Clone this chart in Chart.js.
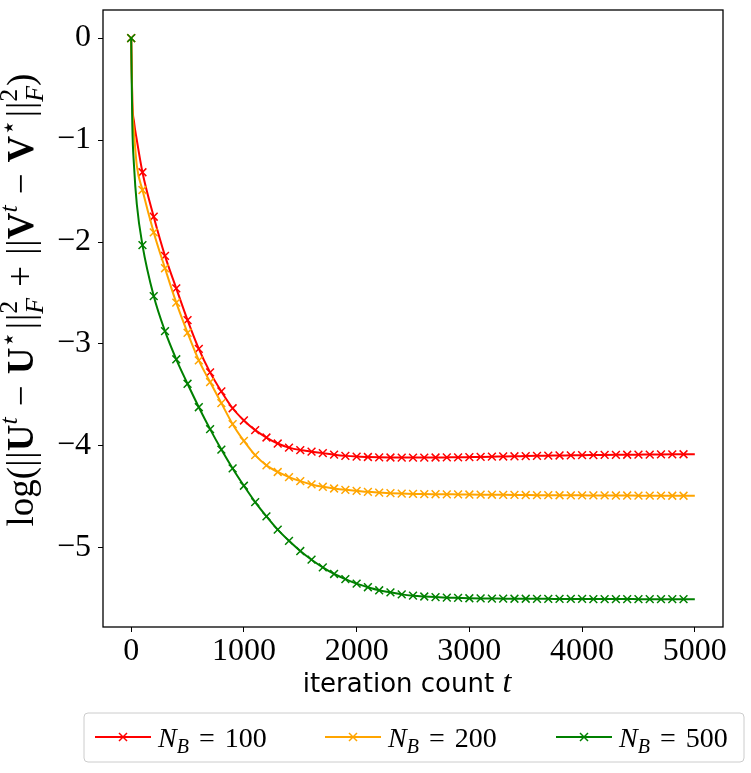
<!DOCTYPE html>
<html>
<head>
<meta charset="utf-8">
<script src="https://cdn.jsdelivr.net/npm/chart.js@4.4.1/dist/chart.umd.min.js"></script>
<style>
  html, body { margin: 0; padding: 0; background: #fff; }
  #wrap { width: 751px; height: 773px; position: relative; }
</style>
</head>
<body>
<div id="wrap"><canvas id="c"></canvas></div>
<script>
// iteration count t (line points; markers drawn every 100)
const tValues = [0, 10, 25, 50,
  100, 200, 300, 400, 500, 600, 700, 800, 900, 1000,
  1100, 1200, 1300, 1400, 1500, 1600, 1700, 1800, 1900, 2000,
  2100, 2200, 2300, 2400, 2500, 2600, 2700, 2800, 2900, 3000,
  3100, 3200, 3300, 3400, 3500, 3600, 3700, 3800, 3900, 4000,
  4100, 4200, 4300, 4400, 4500, 4600, 4700, 4800, 4900, 5000];

const seriesNB100 = [0, -0.62, -0.82, -1.00,
  -1.316, -1.752, -2.136, -2.454, -2.766, -3.048, -3.278, -3.465, -3.630, -3.750,
  -3.845, -3.917, -3.976, -4.016, -4.040, -4.056, -4.070, -4.085, -4.097, -4.104,
  -4.108, -4.111, -4.113, -4.114, -4.114, -4.114, -4.113, -4.112, -4.111, -4.109,
  -4.107, -4.105, -4.103, -4.101, -4.099, -4.097, -4.095, -4.093, -4.092, -4.090,
  -4.089, -4.088, -4.087, -4.086, -4.085, -4.084, -4.083, -4.082, -4.081, -4.080];

const seriesNB200 = [0, -0.65, -0.92, -1.25,
  -1.490, -1.906, -2.257, -2.595, -2.890, -3.160, -3.373, -3.580, -3.786, -3.950,
  -4.090, -4.190, -4.255, -4.305, -4.345, -4.377, -4.400, -4.417, -4.430, -4.440,
  -4.450, -4.457, -4.463, -4.467, -4.470, -4.472, -4.473, -4.474, -4.475, -4.476,
  -4.477, -4.478, -4.479, -4.480, -4.481, -4.482, -4.482, -4.483, -4.484, -4.484,
  -4.485, -4.485, -4.486, -4.486, -4.487, -4.487, -4.487, -4.488, -4.488, -4.488];

const seriesNB500 = [0, -0.85, -1.25, -1.63,
  -2.030, -2.530, -2.874, -3.150, -3.390, -3.620, -3.835, -4.035, -4.220, -4.390,
  -4.550, -4.690, -4.820, -4.930, -5.030, -5.115, -5.190, -5.255, -5.305, -5.350,
  -5.385, -5.415, -5.435, -5.455, -5.468, -5.476, -5.482, -5.487, -5.490, -5.493,
  -5.495, -5.496, -5.497, -5.498, -5.498, -5.499, -5.499, -5.500, -5.500, -5.500,
  -5.501, -5.501, -5.501, -5.501, -5.502, -5.502, -5.502, -5.502, -5.502, -5.502];

const seriesLabels = ['100', '200', '500'];
const seriesColors = ['#ff0000', '#ffa500', '#008000'];
const xTicks = [0, 1000, 2000, 3000, 4000, 5000];
const yTicks = [0, -1, -2, -3, -4, -5];

const SERIF = '"Liberation Serif", "DejaVu Serif", serif';
const SERIF_FB = '"Liberation Serif", "DejaVu Serif", "DejaVu Sans", serif';

function markerRadius(ctx) {
  const t = tValues[ctx.dataIndex];
  return (t % 100 === 0 && t < 5000) ? 5.5 : 0;
}

function makeDataset(values, idx) {
  return {
    label: 'N_B = ' + seriesLabels[idx],
    data: tValues.map((t, i) => ({ x: t, y: values[i] })),
    borderColor: seriesColors[idx],
    backgroundColor: seriesColors[idx],
    borderWidth: 2,
    pointStyle: 'crossRot',
    pointRadius: markerRadius,
    pointHoverRadius: markerRadius,
    pointBorderWidth: 1.5,
    pointBorderColor: seriesColors[idx],
    cubicInterpolationMode: 'monotone',
    fill: false,
    order: 2 - idx
  };
}

// rich text helpers
function segWidth(ctx, s) {
  if (s.gap !== undefined) return s.gap;
  if (s.sup !== undefined) {
    ctx.font = s.supFont; const w1 = ctx.measureText(s.sup).width;
    ctx.font = s.subFont; const w2 = ctx.measureText(s.sub).width;
    return Math.max(w1, w2);
  }
  ctx.font = s.font; return ctx.measureText(s.t).width;
}
function drawSegs(ctx, segs, x0, y0) {
  let x = x0;
  ctx.textBaseline = 'alphabetic';
  ctx.textAlign = 'left';
  for (const s of segs) {
    const w = segWidth(ctx, s);
    if (s.gap === undefined) {
      if (s.sup !== undefined) {
        ctx.font = s.supFont; ctx.fillText(s.sup, x, y0 + s.supDy);
        ctx.font = s.subFont; ctx.fillText(s.sub, x, y0 + s.subDy);
      } else {
        ctx.font = s.font; ctx.fillText(s.t, x, y0 + (s.dy || 0));
      }
    }
    x += w;
  }
}
function totalWidth(ctx, segs) { return segs.reduce((a, s) => a + segWidth(ctx, s), 0); }

function yTitleSegs(S, g) {
  const sp = S * 0.7;
  const rom = S + 'px ' + SERIF_FB, bold = 'bold ' + S + 'px ' + SERIF;
  const supI = 'italic ' + sp + 'px ' + SERIF, supR = sp + 'px ' + SERIF_FB;
  const up = -S * 0.42;
  const norm2F = { sup: '2', sub: 'F', supFont: supR, subFont: supI, supDy: up, subDy: S * 0.27 };
  const bar = { t: '|', font: S + 'px ' + SERIF }, tiny = { gap: S * 0.02 };
  const sm = { gap: S * 0.06 };
  return [
    { t: 'log(', font: rom }, bar, tiny, bar,
    { t: 'U', font: bold }, { t: 't', font: supI, dy: up },
    { gap: g }, { t: '−', font: rom }, { gap: g },
    { t: 'U', font: bold }, { t: '⋆', font: supR, dy: up }, sm,
    bar, tiny, bar, norm2F,
    { gap: g }, { t: '+', font: rom }, { gap: g },
    bar, tiny, bar,
    { t: 'V', font: bold }, { t: 't', font: supI, dy: up },
    { gap: g }, { t: '−', font: rom }, { gap: g },
    { t: 'V', font: bold }, { t: '⋆', font: supR, dy: up }, sm,
    bar, tiny, bar, norm2F,
    { t: ')', font: rom }
  ];
}

const decorPlugin = {
  id: 'decor',
  afterDraw(chart) {
    const ctx = chart.ctx, a = chart.chartArea;
    ctx.save();
    // frame
    ctx.strokeStyle = '#000'; ctx.lineWidth = 1.3;
    ctx.strokeRect(a.left, a.top, a.right - a.left, a.bottom - a.top);
    ctx.fillStyle = '#000';

    // x axis title
    const xs = [
      { t: 'iteration count ', font: '26px "DejaVu Sans", sans-serif' },
      { t: 't', font: 'italic 32px ' + SERIF }
    ];
    const xw = totalWidth(ctx, xs);
    drawSegs(ctx, xs, 407 - xw / 2, 692);

    // y axis title (rotated); operator spacing sized to span the reference length
    const S = 37;
    const w0 = totalWidth(ctx, yTitleSegs(S, 0));
    const g = Math.max(S * 0.15, Math.min(S * 0.6, (475 - w0) / 8));
    const ys = yTitleSegs(S, g);
    const yw = totalWidth(ctx, ys);
    ctx.save();
    ctx.translate(33, 300);
    ctx.rotate(-Math.PI / 2);
    drawSegs(ctx, ys, -yw / 2, 0);
    ctx.restore();

    // legend
    const bx = 84, by = 713, bw = 660, bh = 49, r = 4;
    ctx.beginPath();
    ctx.moveTo(bx + r, by);
    ctx.arcTo(bx + bw, by, bx + bw, by + bh, r);
    ctx.arcTo(bx + bw, by + bh, bx, by + bh, r);
    ctx.arcTo(bx, by + bh, bx, by, r);
    ctx.arcTo(bx, by, bx + bw, by, r);
    ctx.closePath();
    ctx.fillStyle = 'rgba(255,255,255,0.8)'; ctx.fill();
    ctx.strokeStyle = '#cccccc'; ctx.lineWidth = 1; ctx.stroke();
    const entryX = [95, 325, 556];
    const ly = 737;
    for (let i = 0; i < 3; i++) {
      const x0 = entryX[i];
      ctx.strokeStyle = seriesColors[i]; ctx.lineWidth = 2;
      ctx.beginPath(); ctx.moveTo(x0, ly); ctx.lineTo(x0 + 56, ly); ctx.stroke();
      const mx = x0 + 28, m = 4;
      ctx.lineWidth = 1.5;
      ctx.beginPath();
      ctx.moveTo(mx - m, ly - m); ctx.lineTo(mx + m, ly + m);
      ctx.moveTo(mx + m, ly - m); ctx.lineTo(mx - m, ly + m);
      ctx.stroke();
      ctx.fillStyle = '#000';
      const ls = [
        { t: 'N', font: 'italic 28px ' + SERIF },
        { t: 'B', font: 'italic 20px ' + SERIF, dy: 6 },
        { gap: 10 }, { t: '=', font: '28px ' + SERIF }, { gap: 10 },
        { t: seriesLabels[i], font: '28px ' + SERIF }
      ];
      drawSegs(ctx, ls, x0 + 63, ly + 10);
    }
    ctx.restore();
  }
};

new Chart(document.getElementById('c'), {
  type: 'line',
  data: { datasets: [makeDataset(seriesNB100, 0), makeDataset(seriesNB200, 1), makeDataset(seriesNB500, 2)] },
  options: {
    responsive: true,
    maintainAspectRatio: false,
    animation: false,
    layout: { padding: { top: 10, right: 28, bottom: 90, left: 0 } },
    plugins: { legend: { display: false }, tooltip: { enabled: false } },
    scales: {
      x: {
        type: 'linear',
        min: -250, max: 5250,
        afterBuildTicks: s => { s.ticks = xTicks.map(v => ({ value: v })); },
        afterFit: s => { s.height = 56; s.paddingLeft = 0; s.paddingRight = 0; },
        grid: { drawOnChartArea: false, drawTicks: true, tickLength: 5, color: '#000', lineWidth: 1 },
        border: { display: false },
        ticks: { color: '#000', padding: 0, maxRotation: 0, font: { family: 'Liberation Serif', size: 32 }, callback: v => String(v) }
      },
      y: {
        type: 'linear',
        min: -5.775, max: 0.275,
        afterBuildTicks: s => { s.ticks = yTicks.map(v => ({ value: v })); },
        afterFit: s => { s.width = 103; s.paddingTop = 0; s.paddingBottom = 0; },
        grid: { drawOnChartArea: false, drawTicks: true, tickLength: 5, color: '#000', lineWidth: 1 },
        border: { display: false },
        ticks: { color: '#000', padding: 7, font: { family: 'Liberation Serif', size: 32 }, callback: v => v < 0 ? '−' + Math.abs(v) : String(v) }
      }
    }
  },
  plugins: [decorPlugin]
});
</script>
</body>
</html>
